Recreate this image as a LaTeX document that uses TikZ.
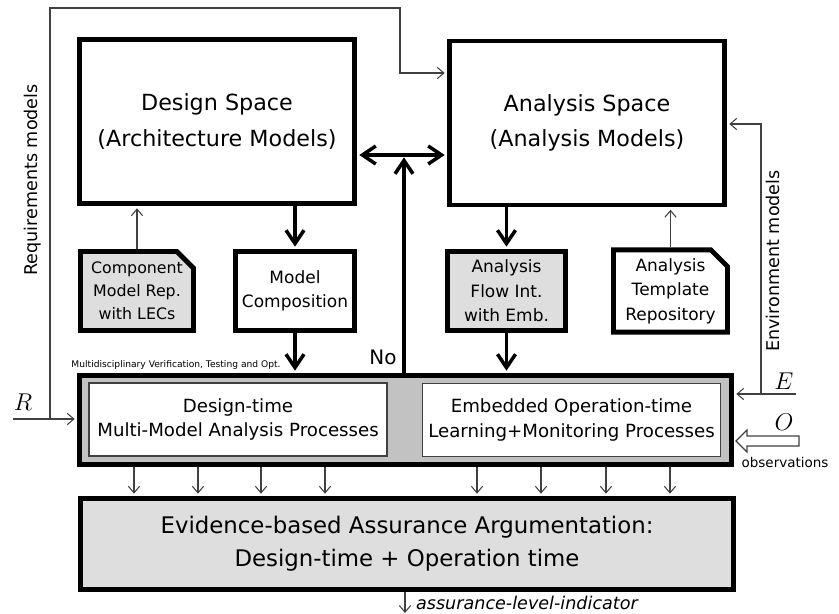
\documentclass[tikz,border=0pt]{standalone}
\usepackage{fontspec}
\setmainfont{DejaVu Sans}
\usepackage{tikz}
\usetikzlibrary{shapes.misc,arrows.meta}

\definecolor{notegray}{gray}{0.87}
\definecolor{framegray}{gray}{0.76}
\definecolor{wire}{gray}{0.25}

\begin{document}
\begin{tikzpicture}[x=0.3mm,y=-0.3mm,
		spacebox/.style={rectangle,draw,line width=4.2pt,minimum width=82.5mm,minimum height=49.2mm,inner sep=0pt,align=center,font=\fontsize{19}{30}\selectfont},
		toolbox/.style={rectangle,draw,line width=4.2pt,minimum height=23.7mm,inner sep=0pt,align=center,font=\fontsize{14.5}{21}\selectfont},
		notebox/.style={toolbox,chamfered rectangle,chamfered rectangle corners=north east,chamfered rectangle sep=2.5mm},
		procbox/.style={rectangle,draw=wire,line width=1.3pt,fill=white,minimum width=89.4mm,minimum height=22mm,inner sep=0pt,align=center,font=\fontsize{15.5}{21}\selectfont},
		thinarrow/.style={-{Straight Barb[length=2mm,width=3.4mm]},line width=0.9pt,draw=wire,shorten >=2pt},
		thickarrow/.style={-{Straight Barb[length=4mm,width=5.4mm]},line width=3pt,shorten >=2pt},
		dblarrow/.style={{Straight Barb[length=4mm,width=5.4mm]}-{Straight Barb[length=4mm,width=5.4mm]},line width=3pt,shorten >=2pt,shorten <=2pt}]
			\useasboundingbox (0,0) rectangle (839,614);

			\node[spacebox] (design) at (217,121.5) {Design Space\\(Architecture Models)};
			\node[spacebox] (analysis) at (587,123) {Analysis Space\\(Analysis Models)};

			\node[notebox,fill=notegray,minimum width=33.9mm,font=\fontsize{13.5}{19.5}\selectfont] (comprep) at (137,291) {Component\\Model Rep.\\with LECs};
			\node[toolbox,minimum width=35.7mm] (modelcomp) at (295,291) {Model\\Composition};
			\node[toolbox,fill=notegray,minimum width=35.4mm] (flowint) at (506.5,291) {Analysis\\Flow Int.\\with Emb.};
			\node[notebox,minimum width=34.2mm] (template) at (670.5,291) {Analysis\\Template\\Repository};

			\node[rectangle,draw,line width=4.2pt,fill=framegray,minimum width=195.6mm,minimum height=26.7mm] (verif) at (405.5,420) {};
			\node[procbox] (dtime) at (238,419.5) {Design-time\\Multi-Model Analysis Processes};
			\node[procbox] (otime) at (571.5,420) {Embedded Operation-time\\Learning+Monitoring Processes};

			\node[rectangle,draw,line width=4.2pt,fill=notegray,minimum width=195.9mm,minimum height=27.3mm,align=center,font=\fontsize{19.5}{28}\selectfont] (evid) at (407,544) {Evidence-based Assurance Argumentation:\\Design-time + Operation time};

			\node[font=\fontsize{7.8}{9}\selectfont] (mvlab) at (176,365) {Multidisciplinary Verification, Testing and Opt.};
			\node[font=\fontsize{17}{20}\selectfont] (nolab) at (383,357) {No};
			\node[rotate=90,font=\fontsize{15}{18}\selectfont] (reqlab) at (33,180) {Requirements models};
			\node[rotate=90,font=\fontsize{15}{18}\selectfont] (envlab) at (773,261) {Environment models};
			\node (rlab) at (23,402) {\huge $R$};
			\node (elab) at (784,381) {\huge $E$};
			\node (olab) at (784,422) {\huge $O$};
			\node[font=\fontsize{11.5}{14}\selectfont] (obslab) at (785,462) {observations};
			\node[anchor=west,font=\fontsize{15}{18}\selectfont\itshape] (alilab) at (412,603) {assurance-level-indicator};

			\path[thickarrow,draw] (design.south -| modelcomp) -- (modelcomp.north);
			\path[thickarrow,draw] (modelcomp.south) -- (verif.north -| modelcomp);
			\path[thickarrow,draw] (analysis.south -| flowint) -- (flowint.north);
			\path[thickarrow,draw] (flowint.south) -- (verif.north -| flowint);
			\path[thinarrow,draw] (comprep.north) -- (design.south -| comprep);
			\path[thinarrow,draw] (template.north) -- (analysis.south -| template);

			\coordinate (junc) at (404,155);
			\path[dblarrow,draw] (design.east |- junc) -- (analysis.west |- junc);
			\path[thickarrow,draw] (verif.north -| junc) -- (junc);

			\coordinate (rin) at (13,419);
			\coordinate (rup) at (50,419);
			\coordinate (rtop) at (400,8);
			\coordinate (rdown) at (400,73);
			\path[thinarrow,draw] (rin) -- (rin -| verif.west);
			\path[thinarrow,draw] (rup) |- (rtop) -- (rdown) -- (analysis.west |- rdown);

			\coordinate (ein) at (796,394);
			\coordinate (eup) at (761,394);
			\coordinate (eturn) at (761,124);
			\path[thinarrow,draw] (ein) -- (ein -| verif.east);
			\path[thinarrow,draw] (eup) -- (eturn) -- (analysis.east |- eturn);

			\coordinate (otip) at (736,441);
			\draw[draw=wire,line width=1pt,fill=white] (otip) -- ++(11,-11) -- ++(0,6) -- ++(52,0) -- ++(0,10) -- ++(-52,0) -- ++(0,6) -- cycle;

			\foreach \xp in {134,198,261,325,477,541,606,670} {
				\coordinate (xa) at (\xp,0);
				\path[thinarrow,draw] (verif.south -| xa) -- (evid.north -| xa);
			}

			\coordinate (aout) at (405,613);
			\path[thinarrow,draw,shorten >=0pt] (evid.south -| aout) -- (aout);
		\end{tikzpicture}
\end{document}
